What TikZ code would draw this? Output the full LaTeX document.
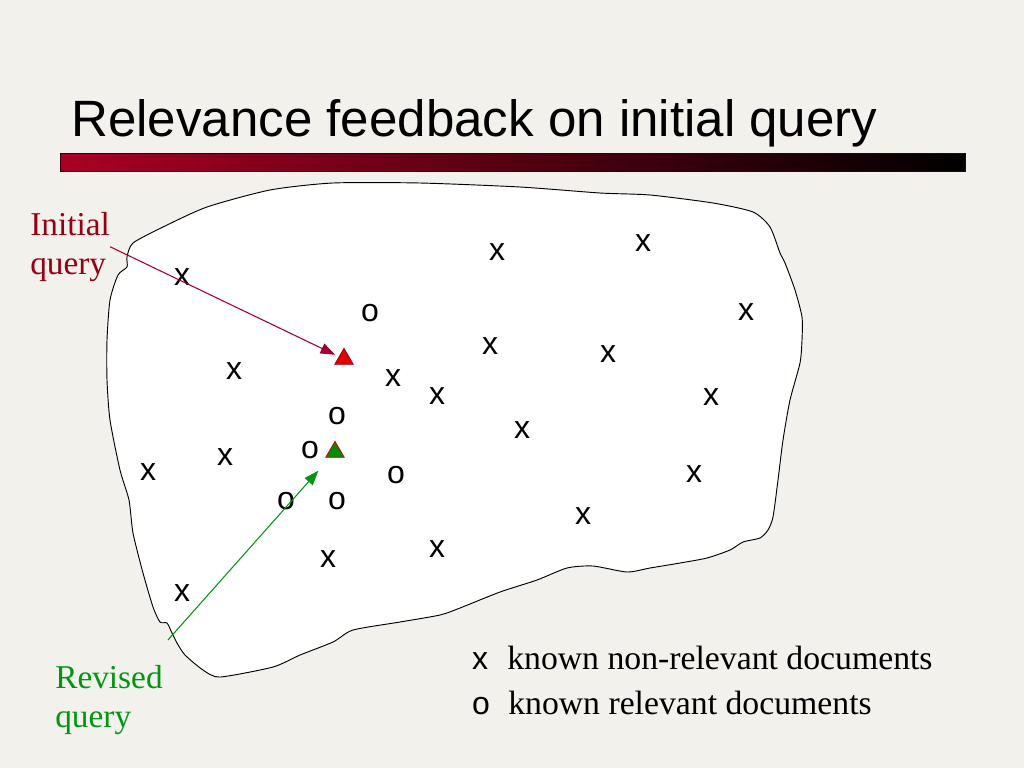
\documentclass[tikz,border=0pt]{standalone}
\usepackage{fontspec}
\setmainfont{Liberation Serif}
\setsansfont{Liberation Sans}
\usetikzlibrary{shapes.geometric,arrows.meta}
\definecolor{bg}{RGB}{242,241,235}
\definecolor{barred}{RGB}{170,0,35}
\definecolor{initred}{RGB}{150,0,20}
\definecolor{arrred}{RGB}{160,0,45}
\definecolor{revgreen}{RGB}{0,150,20}
\tikzset{
  doc/.style={font=\sffamily\fontsize{24}{24}\selectfont, inner sep=0},
  lbl/.style={font=\fontsize{25}{29}\selectfont, align=left, inner sep=0, anchor=north west},
  legend/.style={font=\fontsize{25.3}{30}\selectfont, inner sep=0, anchor=base west},
  qry/.style={regular polygon, regular polygon sides=3, inner sep=0, minimum size=16pt, line width=0.6pt},
}
\begin{document}
\begin{tikzpicture}[x=0.75pt, y=-0.75pt]
  \fill[bg] (0,0) rectangle (1024,768);
  \node[font=\sffamily\fontsize{38.3}{40}\selectfont, anchor=base west, inner sep=0] (title)
    at (71,136) {Relevance feedback on initial query};
  \shade[left color=barred, right color=black] (60,153) rectangle (965,171);
  \draw[line width=0.6pt, black!70!barred] (60,153) rectangle (965,171);
  \draw[fill=white, line width=0.7pt] plot[smooth cycle, tension=0.4] coordinates {
    (133,243) (163,227) (207,207) (270,190) (333,183) (420,183) (520,187) (600,193)
    (650,195) (713,203) (753,212) (770,227) (780,253) (785,263) (795,290) (802,317)
    (802,340) (800,363) (790,400) (783,440) (778,480) (773,517) (768,530) (760,538)
    (743,542) (730,550) (707,558) (680,563) (650,568) (627,572) (593,566) (567,568)
    (537,580) (500,592) (460,608) (440,615) (400,622) (353,630) (333,642) (300,655)
    (273,667) (220,677) (203,670) (185,655) (177,643) (172,633) (167,623) (160,622)
    (153,607) (143,573) (133,533) (129,500) (120,470) (110,420) (107,380) (107,340)
    (110,300) (118,275) (127,267) (127,257)};
  \foreach \p [count=\i] in {(182,277), (497,252), (643,243), (746,312), (490,346),
      (608,354), (234,371), (393,378), (437,396), (711,397), (522,430), (225,457),
      (148,472), (694,474), (583,516), (437,549), (328,559), (182,593)}
    \node[doc] (x\i) at \p {x};
  \foreach \p [count=\i] in {(370,313), (337,416), (310,450), (396,475), (286,501), (337,501)}
    \node[doc] (o\i) at \p {o};
  \node[qry, fill=red!90!black, draw=initred] (q0) at (344,359) {};
  \node[qry, fill=green!55!black, draw=red!80!black] (q1) at (335,452) {};
  \node[lbl, text=initred] (init) at (30,212) {Initial\\query};
  \node[lbl, text=revgreen] (rev) at (55,665) {Revised\\query};
  \draw[arrred, line width=0.8pt, -{Triangle[length=11pt,width=8pt]}, shorten >=3pt]
    (init.east) -- (q0);
  \draw[revgreen, line width=0.8pt, -{Triangle[length=11pt,width=8pt]}, shorten >=13pt]
    ([shift={(5,-25)}]rev.north east) -- (q1);
  \node[doc] (lx) at (480,661) {x};
  \node[legend] (lt1) at (507,669) {known non-relevant documents};
  \node[doc] (lo) at (481,706) {o};
  \node[legend] (lt2) at (508,714) {known relevant documents};
\end{tikzpicture}
\end{document}
